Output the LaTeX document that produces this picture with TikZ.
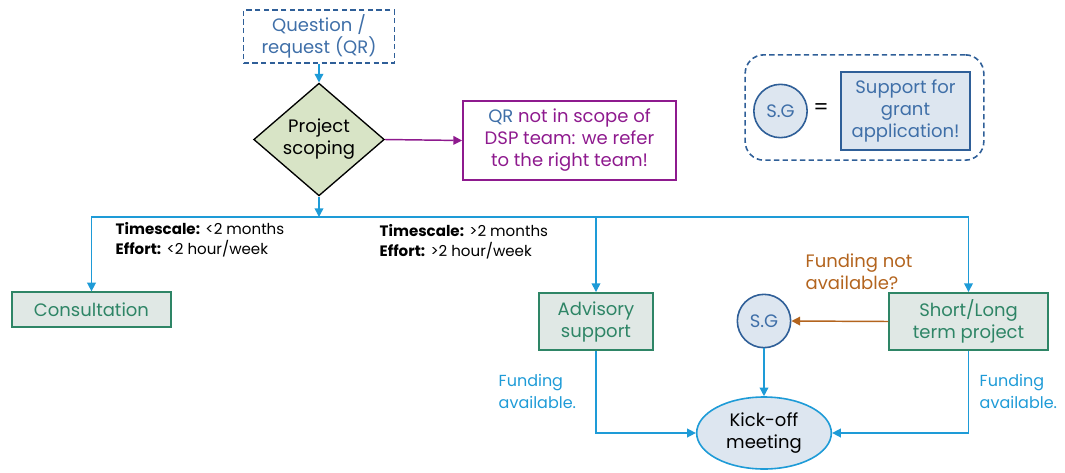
\documentclass[tikz,border=0pt]{standalone}
\usepackage{fontspec}
\setmainfont{Poppins}
\usepackage{tikz}
\usetikzlibrary{shapes.geometric,arrows.meta}
\definecolor{flowblue}{HTML}{1E9BD7}
\definecolor{darkblue}{HTML}{2F5F98}
\definecolor{textblue}{HTML}{3F6FA8}
\definecolor{stagegreen}{HTML}{2E8566}
\definecolor{stagefill}{HTML}{E0E8E5}
\definecolor{scopefill}{HTML}{D8E4C6}
\definecolor{referpurple}{HTML}{8E1A8E}
\definecolor{fundorange}{HTML}{B3641E}
\definecolor{grantfill}{HTML}{DDE6F0}

\begin{document}
\begin{tikzpicture}[x=0.75pt,y=-0.75pt,
    every node/.style={font=\fontsize{13.5}{16.5}\selectfont},
    flow/.style={-{Triangle[length=6.5pt,width=6.5pt]},flowblue,line width=1.1pt},
    stagebox/.style={rectangle,draw=stagegreen,fill=stagefill,text=stagegreen,line width=1.2pt,align=center,inner sep=0pt},
    grantcircle/.style={circle,draw=darkblue,fill=grantfill,text=textblue,line width=1.2pt,minimum size=40pt,inner sep=0pt},
    smalltext/.style={font=\fontsize{11.3}{15}\selectfont,align=left,anchor=west},
    fundtext/.style={font=\fontsize{12}{16.5}\selectfont,align=left,anchor=west,text=flowblue},
    keydash/.style={dash pattern=on 4pt off 2.5pt}
  ]
    \useasboundingbox (0,0) rectangle (1065,472);

    % Question and scoping
    \node[draw=darkblue,keydash,line width=1.2pt,text=textblue,align=center,minimum width=113pt,minimum height=40pt,inner sep=0pt] (qr) at (319,36.5) {Question /\\request (QR)};
    \node[diamond,draw=black,fill=scopefill,line width=1pt,align=center,inner sep=0pt,minimum width=98pt,minimum height=80pt] (scoping) at (319,139.5) {Project\\scoping};
    \node[draw=referpurple,line width=1.2pt,text=referpurple,align=center,minimum width=160pt,minimum height=59pt,inner sep=0pt] (refer) at (569.5,140.5) {\textcolor{textblue}{QR} not in scope of\\DSP team: we refer\\to the right team!};
    \coordinate (split) at (319,217);

    \draw[flow] (qr) -- (scoping);
    \draw[-{Triangle[length=6.5pt,width=6.5pt]},referpurple,line width=1.1pt] (scoping.east) -- (refer.west);
    \draw[flow] (scoping.south) -- (split);

    % Stages
    \node[stagebox,minimum width=119pt,minimum height=26pt] (consult) at (91.5,309.5) {Consultation};
    \node[stagebox,minimum width=85.5pt,minimum height=43pt] (advisory) at (596,321.5) {Advisory\\support};
    \node[stagebox,minimum width=119pt,minimum height=43pt] (project) at (968.5,321.5) {Short/Long\\term project};
    \node[grantcircle] (sg) at (764,321) {S.G};
    \node[ellipse,draw=flowblue,fill=grantfill,line width=1.2pt,align=center,minimum width=101pt,minimum height=54pt,inner sep=0pt] (kickoff) at (764,433) {Kick-off\\meeting};

    \draw[flow] (split) -| (consult.north);
    \draw[flow] (split) -| (advisory.north);
    \draw[flow] (split) -| (project.north);
    \draw[flow] (advisory.south) |- (kickoff.west);
    \draw[flow] (project.south) |- (kickoff.east);
    \draw[flow] (sg.south) -- (kickoff.north);
    \draw[-{Triangle[length=6.5pt,width=6.5pt]},fundorange,line width=1.1pt] (project.west) -- (sg.east);

    % Label values
    \node[smalltext] (short) at (111,240) {\textbf{Timescale:} <2 months\\\textbf{Effort:} <2 hour/week};
    \node[smalltext] (long) at (375,242) {\textbf{Timescale:} >2 months\\\textbf{Effort:} >2 hour/week};
    \node[anchor=west,align=left,text=fundorange] (nofund) at (801,272) {Funding not\\available?};
    \node[fundtext] (fundleft) at (494,391) {Funding\\available.};
    \node[fundtext] (fundright) at (975,391) {Funding\\available.};

    % Legend
    \node[draw=darkblue,keydash,rounded corners=14pt,line width=1.2pt,minimum width=179pt,minimum height=79pt] (legend) at (864.5,107.5) {};
    \node[grantcircle] (sgkey) at (780.5,111) {S.G};
    \node (equals) at (821,109) {\fontsize{16}{16}\selectfont =};
    \node[draw=darkblue,fill=grantfill,text=textblue,line width=1.2pt,align=center,minimum width=97pt,minimum height=58.5pt,inner sep=0pt] (grant) at (905.5,111) {Support for\\grant\\application!};
\end{tikzpicture}
\end{document}
